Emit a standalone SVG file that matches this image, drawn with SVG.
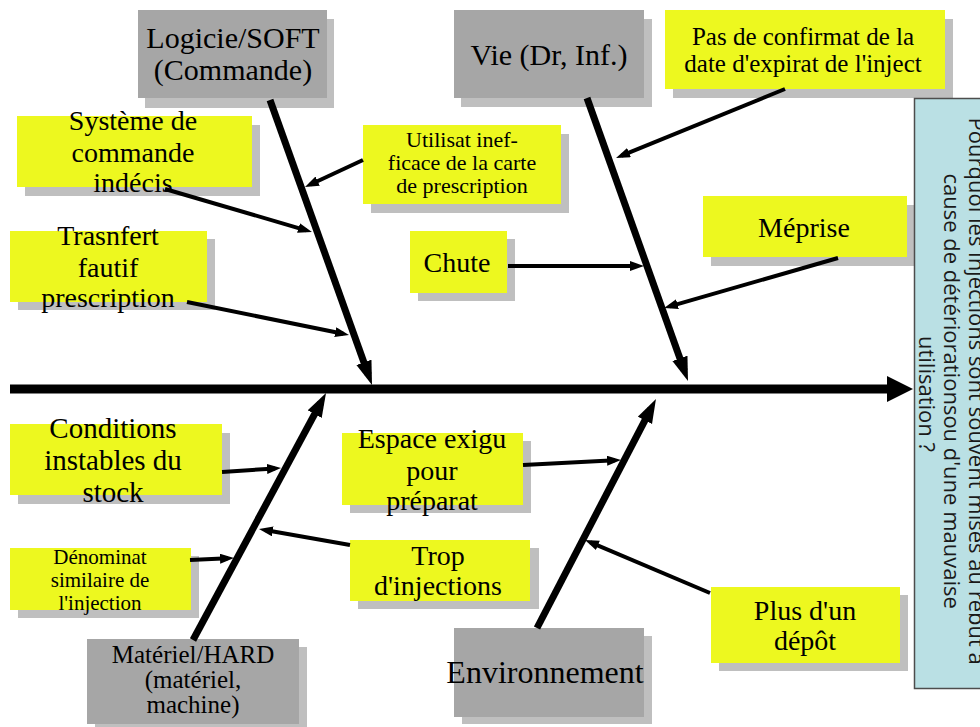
<svg xmlns="http://www.w3.org/2000/svg" width="980" height="727" viewBox="0 0 980 727">
<style>
.y{fill:#EDF81F}
.g{fill:#A6A6A6}
.sh{fill:#BFBFBF}
.t{font-family:"Liberation Serif","Times New Roman",serif;fill:#000;text-anchor:middle}
.c{stroke:#000;fill:none}
.bone{stroke-width:7;marker-end:url(#big)}
.sm{stroke-width:4;marker-end:url(#small)}
.q{font-family:"Open Sans","DejaVu Sans",sans-serif;font-size:22px;fill:#1a1a1a;text-anchor:middle}
</style>
<defs>
<marker id="big" markerUnits="userSpaceOnUse" markerWidth="26" markerHeight="18" refX="13" refY="8" orient="auto">
<path d="M0,0 L24,8 L0,16 z" fill="#000"/>
</marker>
<marker id="small" markerUnits="userSpaceOnUse" markerWidth="16" markerHeight="12" refX="8" refY="5" orient="auto">
<path d="M0,0 L14,5 L0,10 z" fill="#000"/>
</marker>
</defs>
<rect width="980" height="727" fill="#fff"/>

<g id="logiciel">
<rect class="sh" x="145" y="19" width="189" height="89"/>
<rect class="g" x="138" y="10" width="189" height="88"/>
<text class="t" font-size="30" x="233" y="48">Logicie/SOFT</text>
<text class="t" font-size="30" x="233" y="80">(Commande)</text>
</g>
<g id="vie">
<rect class="sh" x="461" y="19" width="191" height="88"/>
<rect class="g" x="454" y="10" width="190" height="88"/>
<text class="t" font-size="30" x="549" y="65">Vie (Dr, Inf.)</text>
</g>
<g id="confirmat">
<rect class="sh" x="673" y="19" width="280" height="79"/>
<rect class="y" x="665" y="10" width="280" height="79"/>
<text class="t" font-size="25" x="803" y="45">Pas de confirmat de la</text>
<text class="t" font-size="25" x="803" y="72">date d'expirat de l'inject</text>
</g>
<g id="systeme">
<rect class="sh" x="25" y="125" width="235" height="71"/>
<rect class="y" x="17" y="116" width="235" height="71"/>
<text class="t" font-size="28" x="133" y="130">Système de</text>
<text class="t" font-size="28" x="133" y="162">commande</text>
<text class="t" font-size="28" x="133" y="192">indécis</text>
</g>
<g id="utilisat">
<rect class="sh" x="371" y="134" width="198" height="79"/>
<rect class="y" x="363" y="125" width="198" height="79"/>
<text class="t" font-size="22" x="462" y="147">Utilisat inef-</text>
<text class="t" font-size="22" x="462" y="170">ficace de la carte</text>
<text class="t" font-size="22" x="462" y="193">de prescription</text>
</g>
<g id="transfert">
<rect class="sh" x="18" y="239" width="197" height="71"/>
<rect class="y" x="10" y="231" width="197" height="71"/>
<text class="t" font-size="28" x="108" y="245">Trasnfert</text>
<text class="t" font-size="28" x="108" y="277">fautif</text>
<text class="t" font-size="28" x="108" y="307">prescription</text>
</g>
<g id="chute">
<rect class="sh" x="418" y="239" width="97" height="62"/>
<rect class="y" x="410" y="231" width="97" height="62"/>
<text class="t" font-size="28" x="457" y="272">Chute</text>
</g>
<g id="meprise">
<rect class="sh" x="711" y="205" width="204" height="61"/>
<rect class="y" x="703" y="196" width="204" height="61"/>
<text class="t" font-size="28" x="804" y="237">Méprise</text>
</g>
<g id="conditions">
<rect class="sh" x="18" y="433" width="212" height="71"/>
<rect class="y" x="10" y="424" width="212" height="71"/>
<text class="t" font-size="29" x="113" y="438">Conditions</text>
<text class="t" font-size="29" x="113" y="470">instables du</text>
<text class="t" font-size="29" x="113" y="502">stock</text>
</g>
<g id="denominat">
<rect class="sh" x="18" y="556" width="181" height="62"/>
<rect class="y" x="10" y="548" width="181" height="62"/>
<text class="t" font-size="21" x="100" y="564">Dénominat</text>
<text class="t" font-size="21" x="100" y="587">similaire de</text>
<text class="t" font-size="21" x="100" y="610">l'injection</text>
</g>
<g id="espace">
<rect class="sh" x="350" y="441" width="181" height="72"/>
<rect class="y" x="342" y="433" width="181" height="72"/>
<text class="t" font-size="28" x="432" y="448">Espace exigu</text>
<text class="t" font-size="28" x="432" y="480">pour</text>
<text class="t" font-size="28" x="432" y="510">préparat</text>
</g>
<g id="trop">
<rect class="sh" x="358" y="548" width="181" height="61"/>
<rect class="y" x="350" y="540" width="180" height="61"/>
<text class="t" font-size="28" x="438" y="565">Trop</text>
<text class="t" font-size="28" x="438" y="595">d'injections</text>
</g>
<g id="depot">
<rect class="sh" x="719" y="595" width="189" height="76"/>
<rect class="y" x="711" y="587" width="189" height="76"/>
<text class="t" font-size="28" x="805" y="620">Plus d'un</text>
<text class="t" font-size="28" x="805" y="650">dépôt</text>
</g>
<g id="materiel">
<rect class="sh" x="95" y="647" width="212" height="85"/>
<rect class="g" x="87" y="639" width="212" height="85"/>
<text class="t" font-size="25" x="193" y="663">Matériel/HARD</text>
<text class="t" font-size="25" x="193" y="688">(matériel,</text>
<text class="t" font-size="25" x="193" y="713">machine)</text>
</g>
<g id="environnement">
<rect class="sh" x="462" y="636" width="190" height="88"/>
<rect class="g" x="454" y="628" width="190" height="89"/>
<text class="t" font-size="32" x="545" y="683">Environnement</text>
</g>

<g id="connectors">
<line class="c" stroke-width="9" x1="10" y1="389" x2="890" y2="389"/>
<path d="M887,376 L913,389 L887,402 z" fill="#000"/>
<line class="c bone" x1="270" y1="100" x2="368.3" y2="374.6"/>
<line class="c bone" x1="587" y1="98" x2="684.3" y2="370.6"/>
<line class="c bone" x1="193" y1="640" x2="320.8" y2="402.7"/>
<line class="c bone" x1="537" y1="628" x2="650.9" y2="408.8"/>
<line class="c sm" x1="165" y1="189" x2="306.2" y2="230.3"/>
<line class="c sm" x1="187" y1="302" x2="343.1" y2="333.8"/>
<line class="c sm" x1="363" y1="160" x2="310.4" y2="184.5"/>
<line class="c sm" x1="785" y1="89" x2="621.6" y2="155.7"/>
<line class="c sm" x1="508" y1="266" x2="638" y2="266"/>
<line class="c sm" x1="838" y1="258" x2="669.8" y2="306.3"/>
<line class="c sm" x1="222" y1="472" x2="275" y2="468.4"/>
<line class="c sm" x1="350" y1="545" x2="264.9" y2="530"/>
<line class="c sm" x1="190" y1="560" x2="228" y2="558.3"/>
<line class="c sm" x1="523" y1="465" x2="615" y2="460.3"/>
<line class="c sm" x1="710" y1="593" x2="590.5" y2="542.3"/>
</g>

<g id="question">
<rect x="914.5" y="98.5" width="80" height="590" fill="#BAE0E4" stroke="#4d4d4d" stroke-width="1.5"/>
<text class="q" transform="translate(944,394) rotate(90)">
<tspan x="0" y="-25">Pourquoi les injections sont souvent mises au rebut à</tspan>
<tspan x="0" y="0">cause de détériorationsou d'une mauvaise</tspan>
<tspan x="0" y="25">utilisation ?</tspan>
</text>
</g>
</svg>
